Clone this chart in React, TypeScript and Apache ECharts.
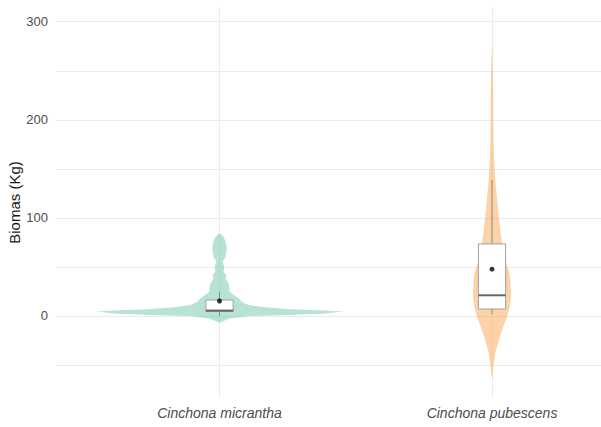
import React, { useEffect, useRef } from "react";
import * as echarts from "echarts";

// Species on the x axis (positions 1 and 2)
const species = ["Cinchona micrantha", "Cinchona pubescens"];

// Y axis: labelled ticks and all gridline positions (major + minor)
const yTicks = [0, 100, 200, 300];
const yGrid = [-50, 0, 50, 100, 150, 200, 250, 300];

// Violin outlines: biomass level (Kg) and half-width in category units
const micranthaLevels = [-7, -5, -2.5, 0, 1, 2.5, 4.5, 5.5, 6.8, 9, 11.2, 14, 18, 21, 24.8, 28.2, 33.3, 38.4, 41.8, 45.2, 50.3, 55.4, 60.5, 69, 75.8, 81, 84.4];
const micranthaWidths = [0, 0.015, 0.037, 0.11, 0.257, 0.385, 0.455, 0.385, 0.264, 0.165, 0.106, 0.084, 0.07, 0.055, 0.037, 0.037, 0.033, 0.022, 0.026, 0.015, 0.018, 0.012, 0.022, 0.027, 0.023, 0.014, 0];

const pubescensLevels = [-65, -51.7, -38, -24.5, -14.3, -0.7, 9.5, 19.7, 36.7, 47, 54, 67, 87.8, 111.5, 138.8, 162.6, 189.8, 240.8, 276.5];
const pubescensWidths = [0, 0.005, 0.012, 0.025, 0.037, 0.055, 0.065, 0.07, 0.067, 0.061, 0.051, 0.04, 0.03, 0.021, 0.012, 0.007, 0.005, 0.004, 0];

// Box plot statistics per species: [lower whisker, Q1, median, Q3, upper whisker]
const micranthaBox = [0.3, 4.6, 5.5, 16.3, 24.8];
const pubescensBox = [2, 7.1, 21.1, 73.5, 139];

// Mean biomass per species
const means = [15.3, 47.7];

const violinLevels = [micranthaLevels, pubescensLevels];
const violinWidths = [micranthaWidths, pubescensWidths];
const boxStats = [micranthaBox, pubescensBox];
const violinColors = ["rgba(102,196,170,0.48)", "rgba(252,166,80,0.5)"];

const BOX_HALF = 0.05;
const FONT = "'Liberation Sans', Arial, sans-serif";

export default function App() {
  const ref = useRef<HTMLDivElement>(null);

  useEffect(() => {
    const chart = echarts.init(ref.current!, null, { renderer: "svg" });

    chart.setOption({
      animation: false,
      backgroundColor: "#ffffff",
      grid: { left: 56, right: 0, top: 7, bottom: 29, outerBoundsMode: "none", containLabel: false },
      xAxis: {
        type: "value",
        min: 0.4,
        max: 2.4,
        axisLine: { show: false },
        axisTick: { show: false, customValues: [1, 2] },
        axisLabel: {
          customValues: [1, 2],
          formatter: (v: number) => species[Math.round(v) - 1] ?? "",
          fontFamily: FONT,
          fontStyle: "italic",
          fontSize: 14,
          color: "#4d4d4d",
          margin: 8,
        },
        splitLine: { show: true, lineStyle: { color: "#ebebeb", width: 1 } },
      },
      yAxis: {
        type: "value",
        min: -83.6,
        max: 315,
        name: "Biomas (Kg)",
        nameLocation: "middle",
        nameRotate: 90,
        nameGap: 34,
        nameMoveOverlap: false,
        nameTextStyle: { fontFamily: FONT, fontSize: 15, color: "#1a1a1a" },
        axisLine: { show: false },
        axisTick: { show: false, customValues: yGrid },
        axisLabel: {
          customValues: yTicks,
          fontFamily: FONT,
          fontSize: 13,
          color: "#4d4d4d",
          margin: 8,
        },
        splitLine: { show: true, lineStyle: { color: "#ebebeb", width: 1 } },
      },
      series: [
        {
          type: "custom",
          name: "violin",
          data: species.map((_, i) => [i + 1, 0]),
          encode: { x: 0, y: 1 },
          renderItem: (params: any, api: any) => {
            const i = params.dataIndex;
            const c = i + 1;
            const lv = violinLevels[i];
            const w = violinWidths[i];
            const pts: number[][] = [];
            for (let k = 0; k < lv.length; k++) pts.push(api.coord([c + w[k], lv[k]]));
            for (let k = lv.length - 1; k >= 0; k--) pts.push(api.coord([c - w[k], lv[k]]));
            return {
              type: "polygon",
              shape: { points: pts },
              style: { fill: violinColors[i], stroke: null },
            };
          },
        },
        {
          type: "custom",
          name: "box",
          data: species.map((_, i) => [i + 1, boxStats[i][2]]),
          encode: { x: 0, y: 1 },
          renderItem: (params: any, api: any) => {
            const i = params.dataIndex;
            const c = i + 1;
            const [lo, q1, med, q3, hi] = boxStats[i];
            const pLo = api.coord([c, lo]);
            const pHi = api.coord([c, hi]);
            const tl = api.coord([c - BOX_HALF, q3]);
            const br = api.coord([c + BOX_HALF, q1]);
            const mL = api.coord([c - BOX_HALF, med]);
            const mR = api.coord([c + BOX_HALF, med]);
            return {
              type: "group",
              children: [
                {
                  type: "line",
                  shape: { x1: pHi[0], y1: pHi[1], x2: pHi[0], y2: tl[1] },
                  style: { stroke: "#8c8c8c", lineWidth: 1 },
                },
                {
                  type: "line",
                  shape: { x1: pLo[0], y1: pLo[1], x2: pLo[0], y2: br[1] },
                  style: { stroke: "#8c8c8c", lineWidth: 1 },
                },
                {
                  type: "rect",
                  shape: { x: tl[0], y: tl[1], width: br[0] - tl[0], height: br[1] - tl[1] },
                  style: { fill: "#ffffff", stroke: "#a0a0a0", lineWidth: 1 },
                },
                {
                  type: "line",
                  shape: { x1: mL[0], y1: mL[1], x2: mR[0], y2: mR[1] },
                  style: { stroke: "#666666", lineWidth: 2 },
                },
              ],
            };
          },
        },
        {
          type: "scatter",
          name: "mean",
          data: means.map((m, i) => [i + 1, m]),
          symbol: "circle",
          symbolSize: 5,
          itemStyle: { color: "#000000" },
        },
      ],
    });

    return () => chart.dispose();
  }, []);

  return (
    <div
      ref={ref}
      style={{ position: "absolute", left: 0, top: 0, width: 601, height: 427 }}
    />
  );
}
